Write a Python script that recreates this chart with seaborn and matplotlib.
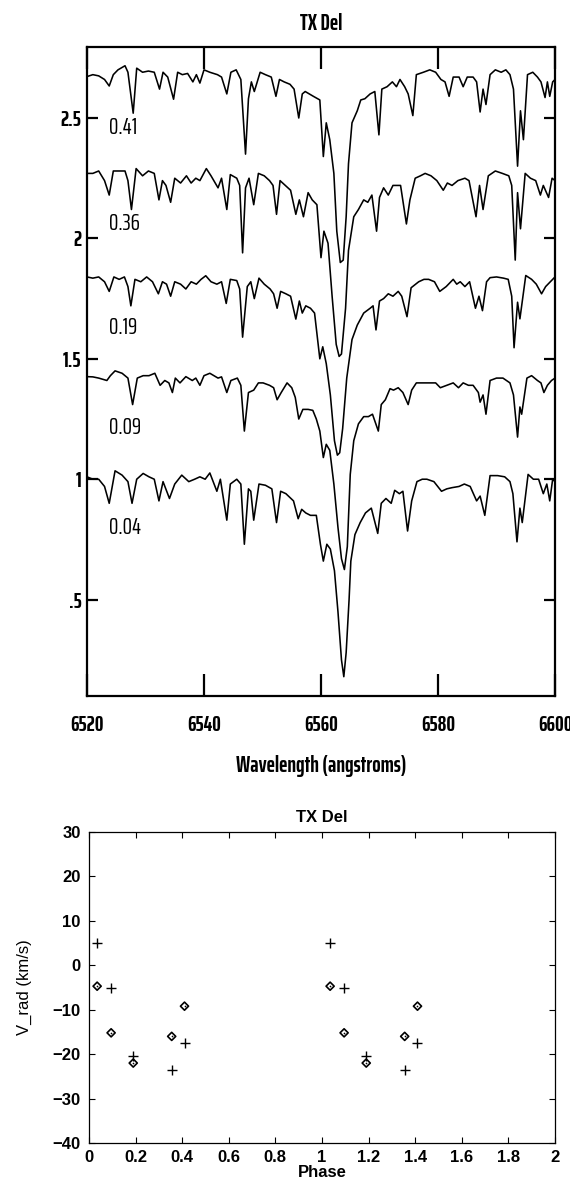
import numpy as np
import pandas as pd
import matplotlib
matplotlib.use("Agg")
import matplotlib.pyplot as plt
import seaborn as sns
from matplotlib import font_manager
from matplotlib.ticker import FuncFormatter

sns.set_style("ticks")

installed = {f.name for f in font_manager.fontManager.ttflist}


def first_font(options, default="DejaVu Sans"):
    for name in options:
        if name in installed:
            return name
    return default


NARROW = first_font(["Saira ExtraCondensed", "Oswald", "Antonio", "Roboto Condensed",
                     "Liberation Sans Narrow"])
SANS = first_font(["Liberation Sans", "Arimo"])
plt.rcParams["font.family"] = [SANS, "DejaVu Sans"]
plt.rcParams.update({
    "text.color": "black", "axes.labelcolor": "black", "axes.edgecolor": "black",
    "xtick.color": "black", "ytick.color": "black",
})

# ---------------------------------------------------------------------------
# H-alpha region spectra of TX Del at five pulsation phases (offset fluxes)
# ---------------------------------------------------------------------------
phase_labels = ["0.41", "0.36", "0.19", "0.09", "0.04"]

wl_041 = [6520.0, 6521.0, 6522.0, 6523.0, 6523.8, 6524.5, 6525.3, 6526.5, 6527.0, 6527.9,
          6528.5, 6529.5, 6530.5, 6531.5, 6532.4, 6533.0, 6533.8, 6534.8, 6535.5, 6536.3,
          6537.2, 6538.1, 6538.7, 6539.3, 6540.0, 6541.0, 6542.3, 6543.0, 6543.9, 6544.6,
          6545.5, 6546.3, 6547.1, 6547.6, 6548.1, 6548.6, 6549.6, 6550.5, 6551.5, 6552.3,
          6552.9, 6553.7, 6554.7, 6555.4, 6556.2, 6556.8, 6557.3, 6558.0, 6558.7, 6559.8,
          6560.4, 6560.9, 6561.5, 6562.2, 6562.7, 6563.3, 6563.8, 6564.3, 6564.7, 6565.3,
          6566.2, 6566.8, 6567.5, 6568.4, 6569.2, 6569.9, 6570.4, 6571.3, 6572.2, 6572.9,
          6573.5, 6574.3, 6574.9, 6575.7, 6576.3, 6577.5, 6578.6, 6579.6, 6580.5, 6581.2,
          6581.9, 6582.6, 6583.6, 6584.3, 6585.0, 6586.0, 6586.6, 6587.2, 6587.7, 6588.2,
          6588.9, 6589.8, 6590.8, 6591.6, 6592.3, 6592.9, 6593.6, 6594.1, 6594.6, 6595.3,
          6596.2, 6597.0, 6597.6, 6598.3, 6598.7, 6599.1, 6599.6, 6600.0]
fx_041 = [2.672, 2.680, 2.675, 2.660, 2.633, 2.680, 2.700, 2.717, 2.690, 2.520,
          2.707, 2.690, 2.695, 2.690, 2.620, 2.690, 2.670, 2.578, 2.690, 2.680,
          2.685, 2.650, 2.680, 2.645, 2.700, 2.690, 2.680, 2.670, 2.600, 2.690,
          2.700, 2.660, 2.350, 2.580, 2.650, 2.610, 2.690, 2.680, 2.670, 2.590,
          2.660, 2.650, 2.640, 2.620, 2.500, 2.600, 2.610, 2.600, 2.590, 2.575,
          2.340, 2.480, 2.410, 2.270, 2.030, 1.900, 1.910, 2.090, 2.310, 2.480,
          2.530, 2.575, 2.580, 2.600, 2.610, 2.430, 2.620, 2.630, 2.650, 2.630,
          2.660, 2.630, 2.600, 2.510, 2.680, 2.690, 2.700, 2.690, 2.660, 2.650,
          2.590, 2.670, 2.670, 2.630, 2.670, 2.670, 2.650, 2.525, 2.620, 2.556,
          2.680, 2.700, 2.690, 2.700, 2.680, 2.620, 2.300, 2.530, 2.410, 2.680,
          2.690, 2.670, 2.650, 2.585, 2.650, 2.590, 2.650, 2.660]

wl_036 = [6520.0, 6521.0, 6522.0, 6523.0, 6523.8, 6524.5, 6525.5, 6526.5, 6527.0, 6527.6,
          6528.4, 6529.5, 6530.5, 6531.5, 6532.3, 6532.9, 6533.5, 6534.3, 6535.0, 6536.0,
          6537.0, 6537.8, 6538.6, 6539.3, 6540.4, 6541.2, 6542.4, 6543.0, 6543.9, 6544.5,
          6545.6, 6546.1, 6546.6, 6547.1, 6547.7, 6548.5, 6549.3, 6550.3, 6551.2, 6551.8,
          6552.4, 6553.0, 6553.9, 6554.8, 6555.7, 6556.3, 6557.0, 6557.8, 6558.5, 6559.3,
          6560.0, 6560.5, 6561.2, 6561.9, 6562.6, 6563.1, 6563.5, 6564.2, 6564.7, 6565.6,
          6566.4, 6567.3, 6568.0, 6568.7, 6569.5, 6570.0, 6570.7, 6571.5, 6572.3, 6573.6,
          6574.6, 6575.2, 6576.1, 6577.0, 6577.8, 6578.8, 6579.8, 6580.9, 6581.6, 6582.4,
          6583.4, 6584.6, 6585.3, 6586.5, 6587.1, 6587.7, 6588.6, 6589.8, 6591.0, 6592.1,
          6592.6, 6593.2, 6593.6, 6594.1, 6594.9, 6595.8, 6596.7, 6597.5, 6598.0, 6598.9,
          6599.5, 6600.0]
fx_036 = [2.270, 2.270, 2.280, 2.240, 2.180, 2.280, 2.280, 2.280, 2.240, 2.120,
          2.290, 2.260, 2.280, 2.270, 2.160, 2.240, 2.220, 2.150, 2.250, 2.230,
          2.260, 2.230, 2.250, 2.240, 2.290, 2.260, 2.210, 2.250, 2.120, 2.265,
          2.250, 2.220, 1.940, 2.210, 2.250, 2.140, 2.270, 2.260, 2.240, 2.220,
          2.100, 2.240, 2.220, 2.200, 2.100, 2.160, 2.090, 2.190, 2.160, 2.140,
          1.920, 2.030, 1.980, 1.760, 1.560, 1.510, 1.520, 1.710, 1.950, 2.090,
          2.120, 2.160, 2.150, 2.180, 2.030, 2.170, 2.210, 2.180, 2.220, 2.220,
          2.060, 2.160, 2.250, 2.260, 2.270, 2.260, 2.240, 2.200, 2.230, 2.220,
          2.240, 2.250, 2.240, 2.090, 2.220, 2.120, 2.260, 2.280, 2.270, 2.260,
          2.220, 1.910, 2.190, 2.040, 2.270, 2.250, 2.240, 2.180, 2.220, 2.170,
          2.250, 2.240]

wl_019 = [6520.0, 6521.0, 6522.0, 6523.0, 6523.8, 6524.6, 6525.5, 6526.4, 6527.0, 6527.5,
          6528.2, 6529.2, 6530.2, 6531.2, 6532.2, 6532.9, 6533.6, 6534.3, 6535.0, 6536.0,
          6536.9, 6537.8, 6538.7, 6539.5, 6540.3, 6541.2, 6542.2, 6543.0, 6543.8, 6544.5,
          6545.6, 6546.1, 6546.6, 6547.4, 6548.0, 6548.6, 6549.4, 6550.3, 6551.3, 6551.9,
          6552.5, 6553.1, 6554.0, 6554.8, 6555.7, 6556.3, 6556.8, 6557.4, 6558.2, 6558.9,
          6559.8, 6560.3, 6560.9, 6561.6, 6562.3, 6562.8, 6563.2, 6563.7, 6564.4, 6565.3,
          6566.2, 6567.3, 6568.4, 6568.9, 6569.4, 6570.0, 6570.7, 6571.5, 6572.3, 6573.2,
          6573.8, 6574.7, 6575.4, 6576.7, 6577.6, 6578.4, 6579.4, 6580.3, 6581.4, 6582.6,
          6583.2, 6583.8, 6584.6, 6585.4, 6586.4, 6587.0, 6587.6, 6588.3, 6588.9, 6590.0,
          6591.2, 6592.0, 6592.6, 6593.0, 6593.6, 6594.0, 6595.0, 6596.0, 6596.8, 6597.7,
          6598.4, 6599.2, 6600.0]
fx_019 = [1.840, 1.835, 1.840, 1.820, 1.780, 1.840, 1.830, 1.840, 1.800, 1.720,
          1.830, 1.820, 1.840, 1.820, 1.770, 1.820, 1.810, 1.760, 1.820, 1.810,
          1.790, 1.820, 1.810, 1.830, 1.845, 1.820, 1.810, 1.820, 1.730, 1.830,
          1.825, 1.790, 1.590, 1.800, 1.820, 1.750, 1.835, 1.810, 1.790, 1.770,
          1.710, 1.780, 1.770, 1.760, 1.665, 1.740, 1.690, 1.720, 1.710, 1.690,
          1.500, 1.550, 1.480, 1.350, 1.160, 1.100, 1.110, 1.210, 1.420, 1.580,
          1.640, 1.690, 1.710, 1.720, 1.620, 1.740, 1.750, 1.770, 1.760, 1.780,
          1.760, 1.675, 1.795, 1.820, 1.830, 1.830, 1.820, 1.780, 1.800, 1.830,
          1.810, 1.820, 1.800, 1.820, 1.710, 1.760, 1.700, 1.820, 1.837, 1.840,
          1.835, 1.830, 1.760, 1.546, 1.735, 1.666, 1.846, 1.830, 1.810, 1.770,
          1.800, 1.820, 1.840]

wl_009 = [6520.0, 6521.0, 6522.0, 6523.4, 6524.0, 6524.8, 6526.0, 6527.0, 6527.8, 6528.6,
          6529.6, 6530.6, 6531.6, 6532.5, 6533.3, 6534.0, 6534.6, 6535.1, 6535.9, 6536.9,
          6538.0, 6538.6, 6539.3, 6540.0, 6541.0, 6542.4, 6543.0, 6543.9, 6544.6, 6545.7,
          6546.3, 6546.9, 6547.6, 6548.5, 6549.3, 6550.1, 6551.2, 6551.9, 6552.5, 6553.2,
          6554.2, 6555.0, 6555.6, 6556.2, 6556.9, 6557.8, 6558.6, 6559.2, 6559.8, 6560.4,
          6560.9, 6561.5, 6562.2, 6562.9, 6563.5, 6564.0, 6564.5, 6565.0, 6565.6, 6566.4,
          6567.3, 6568.1, 6568.8, 6569.8, 6570.3, 6571.0, 6571.8, 6572.4, 6573.2, 6574.0,
          6574.9, 6575.5, 6576.3, 6577.4, 6578.6, 6579.6, 6580.4, 6581.5, 6582.6, 6583.5,
          6584.3, 6585.2, 6586.0, 6586.9, 6587.2, 6587.7, 6588.2, 6588.9, 6590.0, 6591.1,
          6592.3, 6592.9, 6593.6, 6594.0, 6594.3, 6595.2, 6596.0, 6597.0, 6597.6, 6598.1,
          6598.7, 6599.4, 6600.0]
fx_009 = [1.426, 1.425, 1.420, 1.410, 1.430, 1.450, 1.440, 1.420, 1.310, 1.420,
          1.430, 1.430, 1.440, 1.390, 1.410, 1.400, 1.360, 1.420, 1.400, 1.426,
          1.410, 1.420, 1.390, 1.430, 1.440, 1.420, 1.425, 1.360, 1.410, 1.420,
          1.390, 1.200, 1.360, 1.370, 1.400, 1.400, 1.390, 1.380, 1.330, 1.360,
          1.400, 1.380, 1.340, 1.250, 1.290, 1.290, 1.286, 1.250, 1.200, 1.090,
          1.145, 1.120, 0.980, 0.800, 0.670, 0.625, 0.720, 1.020, 1.160, 1.230,
          1.260, 1.260, 1.270, 1.200, 1.310, 1.330, 1.376, 1.370, 1.380, 1.360,
          1.310, 1.370, 1.400, 1.400, 1.400, 1.400, 1.380, 1.390, 1.400, 1.380,
          1.400, 1.390, 1.390, 1.360, 1.320, 1.350, 1.270, 1.410, 1.420, 1.420,
          1.400, 1.350, 1.175, 1.300, 1.270, 1.420, 1.430, 1.410, 1.400, 1.360,
          1.390, 1.410, 1.420]

wl_004 = [6520.0, 6521.0, 6522.0, 6523.0, 6523.8, 6524.8, 6526.0, 6527.0, 6527.7, 6528.5,
          6529.6, 6530.6, 6531.5, 6532.3, 6533.0, 6534.1, 6535.0, 6536.2, 6537.4, 6538.4,
          6539.3, 6540.2, 6541.0, 6542.2, 6542.8, 6543.9, 6544.5, 6545.6, 6546.3, 6546.9,
          6547.6, 6548.0, 6548.5, 6549.4, 6550.5, 6551.6, 6552.4, 6553.1, 6554.0, 6555.3,
          6556.1, 6556.7, 6557.4, 6558.2, 6559.2, 6559.9, 6560.4, 6561.0, 6561.6, 6562.3,
          6562.9, 6563.5, 6563.9, 6564.3, 6564.8, 6565.1, 6565.8, 6566.7, 6567.6, 6568.6,
          6569.7, 6570.3, 6571.1, 6572.0, 6572.6, 6573.4, 6574.0, 6574.8, 6575.5, 6576.4,
          6577.3, 6578.1, 6579.3, 6580.6, 6581.5, 6582.4, 6583.6, 6584.5, 6585.5, 6586.6,
          6587.2, 6588.0, 6588.9, 6590.2, 6591.4, 6592.3, 6592.8, 6593.5, 6594.0, 6594.4,
          6595.4, 6596.3, 6597.2, 6598.0, 6598.6, 6599.1, 6599.6, 6600.0]
fx_004 = [1.010, 1.000, 1.000, 0.970, 0.900, 1.035, 1.017, 0.990, 0.900, 1.000,
          1.024, 1.010, 1.000, 0.910, 0.990, 0.920, 0.980, 1.017, 0.990, 1.000,
          1.010, 1.000, 1.026, 0.950, 1.000, 0.830, 0.980, 1.000, 0.980, 0.730,
          0.960, 0.950, 0.830, 0.980, 0.975, 0.960, 0.820, 0.950, 0.940, 0.910,
          0.836, 0.875, 0.860, 0.850, 0.850, 0.730, 0.660, 0.730, 0.710, 0.620,
          0.450, 0.250, 0.180, 0.280, 0.500, 0.660, 0.770, 0.820, 0.860, 0.880,
          0.775, 0.900, 0.920, 0.900, 0.954, 0.940, 0.950, 0.785, 0.910, 0.990,
          1.000, 1.000, 0.990, 0.950, 0.960, 0.965, 0.970, 0.980, 0.970, 0.910,
          0.930, 0.850, 1.015, 1.015, 1.010, 0.990, 0.940, 0.740, 0.880, 0.820,
          1.020, 1.000, 1.000, 0.940, 0.980, 0.910, 1.000, 0.990]

# ---------------------------------------------------------------------------
# Radial velocities from two line sets, phased (plotted over two cycles)
# ---------------------------------------------------------------------------
rv_phase = [0.035, 0.095, 0.19, 0.355, 0.41]
rv_plus = [5.0, -5.0, -20.5, -23.5, -17.5]
rv_diamond = [-4.7, -15.2, -22.0, -16.0, -9.2]

spec_wl = [wl_041, wl_036, wl_019, wl_009, wl_004]
spec_fx = [fx_041, fx_036, fx_019, fx_009, fx_004]

spec = pd.concat(
    [pd.DataFrame({"wavelength": w, "flux": f, "phase": lab})
     for lab, w, f in zip(phase_labels, spec_wl, spec_fx)],
    ignore_index=True,
)

cycles = [0, 1]
rv = pd.DataFrame({
    "phase": [p + c for c in cycles for p in rv_phase],
    "plus": rv_plus * len(cycles),
    "diamond": rv_diamond * len(cycles),
})

# ---------------------------------------------------------------------------
fig = plt.figure(figsize=(5.70, 11.83), dpi=100)
ax1 = fig.add_axes([0.1526, 0.4117, 0.8211, 0.5486])
ax2 = fig.add_axes([0.1561, 0.0338, 0.8175, 0.2629])

narrow = [NARROW, "DejaVu Sans"]

# --- top panel: spectra
sns.lineplot(data=spec, x="wavelength", y="flux", units="phase", estimator=None,
             sort=False, color="black", linewidth=1.15, ax=ax1, legend=False)
ax1.set_xlim(6520, 6600)
ax1.set_ylim(0.10, 2.795)
ax1.set_xticks([6520, 6540, 6560, 6580, 6600])
ax1.set_yticks([0.5, 1.0, 1.5, 2.0, 2.5])
ax1.yaxis.set_major_formatter(FuncFormatter(
    lambda v, _: ("%g" % v).lstrip("0") if v < 1 else "%g" % v))
ax1.tick_params(axis="x", direction="in", length=16, width=1.6, top=True,
                bottom=True, pad=14)
ax1.tick_params(axis="y", direction="in", length=8, width=1.6, left=True,
                right=True, pad=4)
for lab in ax1.get_xticklabels() + ax1.get_yticklabels():
    lab.set_fontfamily(narrow)
    lab.set_fontweight("bold")
    lab.set_fontsize(15.5)
for s in ax1.spines.values():
    s.set_linewidth(1.6)
    s.set_visible(True)
ax1.set_xlabel("Wavelength (angstroms)", fontsize=16, fontweight="bold",
               labelpad=14, family=narrow)
ax1.set_ylabel("")
ax1.set_title("TX Del", fontsize=16, fontweight="bold", pad=12, family=narrow)

for lab, f in zip(phase_labels, spec_fx):
    ax1.text(6523.7, f[0] - 0.21, lab, fontsize=17, va="center", ha="left",
             family=narrow)

# --- bottom panel: radial velocity curve
sns.scatterplot(data=rv, x="phase", y="plus", marker="+", s=44, color="black",
                linewidth=1.0, ax=ax2, legend=False, zorder=3)
sns.scatterplot(data=rv, x="phase", y="diamond", marker="D", s=17,
                color="black", linewidth=1.2, ax=ax2, legend=False, zorder=3)
diam = ax2.collections[-1]
diam.set_facecolor("none")
diam.set_edgecolor("black")
sns.scatterplot(data=rv, x="phase", y="diamond", marker="o", s=1.5,
                color="black", linewidth=0, ax=ax2, legend=False, zorder=4)

ax2.set_xlim(0, 2)
ax2.set_ylim(-40, 30)
ax2.set_xticks(np.arange(0, 2.01, 0.2))
ax2.set_yticks(np.arange(-40, 31, 10))
ax2.xaxis.set_major_formatter(FuncFormatter(lambda v, _: "%g" % round(v, 1)))
ax2.tick_params(direction="in", length=4, width=0.8, top=True, right=True,
                labelsize=12)
ax2.tick_params(axis="y", pad=6)
ax2.tick_params(axis="x", pad=5)
for lab in ax2.get_xticklabels() + ax2.get_yticklabels():
    lab.set_fontweight("bold")
for s in ax2.spines.values():
    s.set_linewidth(0.9)
    s.set_visible(True)
ax2.set_title("TX Del", fontsize=12, fontweight="bold", pad=7)
ax2.set_xlabel("Phase", fontsize=12, fontweight="bold", labelpad=0)
ax2.set_ylabel("V_rad (km/s)", fontsize=12, labelpad=15)

fig.savefig("out.png", dpi=100, facecolor="white")
